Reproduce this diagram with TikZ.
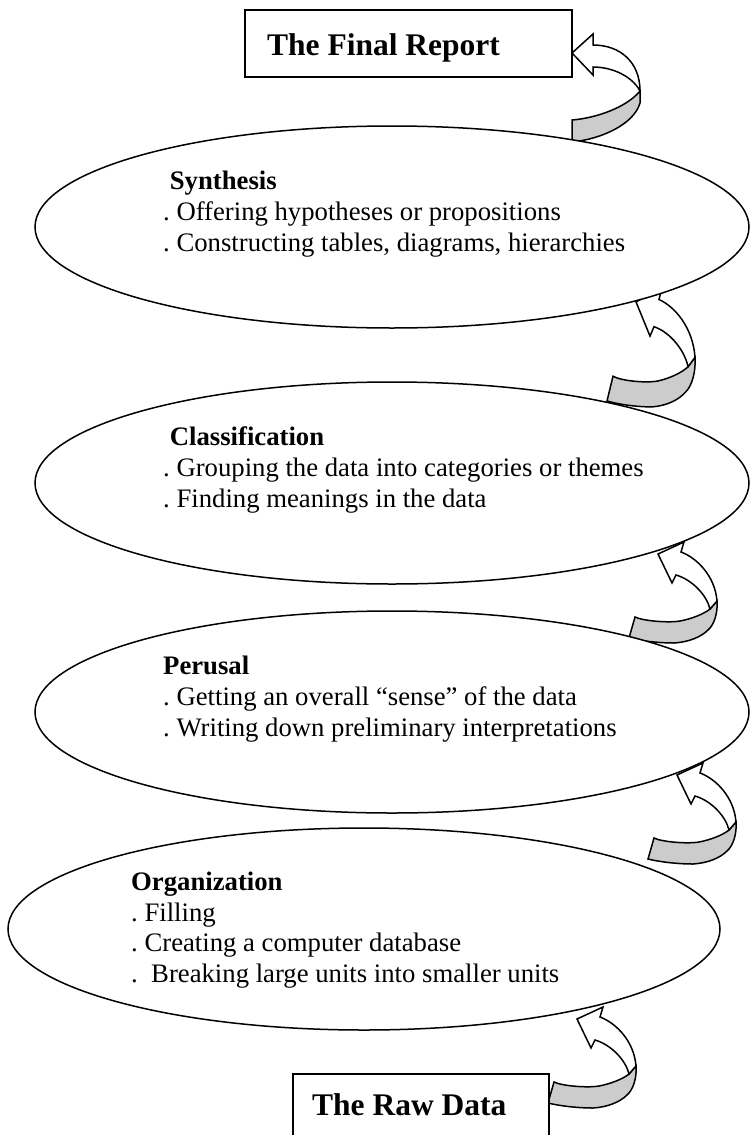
\documentclass[tikz,border=0pt]{standalone}
\usepackage{fontspec}
\setmainfont{Liberation Serif}
\usetikzlibrary{shapes.geometric}
\definecolor{bandgray}{RGB}{204,204,204}
\frenchspacing
\tikzset{
  ln/.style={line width=1.5pt, line join=miter},
  stage/.style={ellipse, draw, ln, fill=white, minimum width=714pt, minimum height=202pt, inner sep=0pt},
  endbox/.style={rectangle, draw, ln, fill=white, inner sep=0pt, anchor=north west},
  body/.style={anchor=base west, inner sep=0pt, font=\fontsize{26.7pt}{30.7pt}\selectfont},
  head/.style={anchor=base west, inner sep=0pt, font=\fontsize{26.7pt}{30.7pt}\selectfont\bfseries},
  title/.style={anchor=base west, inner sep=0pt, font=\fontsize{31.5pt}{36pt}\selectfont\bfseries},
  curl/.pic={
    \draw[ln, fill=bandgray] (0,0) -- (6,-21) .. controls (14,-17) and (40,-15) .. (51,-17)
      .. controls (62,-19) and (75,-24) .. (81,-29) -- (88,-37)
      .. controls (89,-25) and (85,-13) .. (79,-8)
      .. controls (72,-1) and (60,4) .. (45,5)
      .. controls (30,5) and (12,3) .. (0,0) -- cycle;
    \draw[ln, fill=white] (29,-84) -- (55,-96) -- (52,-86)
      .. controls (68,-80) and (86,-62) .. (88,-37) -- (81,-29)
      .. controls (78,-42) and (64,-58) .. (47,-63) -- (43,-55) -- cycle;
  },
  curltop/.pic={
    \draw[ln, fill=bandgray] (0,0) -- (0,-22) .. controls (25,-24) and (55,-35) .. (68,-51)
      -- (68,-39) .. controls (62,-18) and (30,-3) .. (0,0) -- cycle;
    \draw[ln, fill=white] (0,-89) -- (21,-108) -- (21,-97)
      .. controls (48,-97) and (68,-80) .. (68,-51)
      .. controls (60,-66) and (40,-75) .. (21,-75) -- (21,-67) -- cycle;
  }
}
\begin{document}
\begin{tikzpicture}[x=1pt,y=-1pt]
\path[use as bounding box] (0,0) rectangle (750,1135);
\clip (0,0) rectangle (750,1135);
% curved arrows (drawn first, ellipses cover their tips)
\coordinate (a1) at (572,142);
\coordinate (a2) at (607,401);
\coordinate (a3) at (629,638);
\coordinate (a4) at (648,859);
\coordinate (a5) at (548,1103);
\pic at (a1) {curltop};
\pic[yscale=1.18] at (a2) {curl};
\pic at (a3) {curl};
\pic at (a4) {curl};
\pic at (a5) {curl};
% stages
\node[stage] (syn) at (392,227) {};
\node[stage] (cls) at (392,483) {};
\node[stage] (per) at (392,712) {};
\node[stage, minimum width=712pt] (org) at (364,929) {};
% end boxes
\node[endbox, minimum width=327pt, minimum height=67pt] (final) at (244,9) {};
\node[endbox, minimum width=256pt, minimum height=75pt] (raw) at (292,1073) {};
\node[title] (finalt) at (267,55) {The Final Report};
\node[title] (rawt) at (312,1115) {The Raw Data};
% texts
\node[head] (syn0) at (169.7,189) {Synthesis};
\node[body] (syn1) at (163,220) {. Offering hypotheses or propositions};
\node[body] (syn2) at (163,251) {. Constructing tables, diagrams, hierarchies};
\node[head] (cls0) at (169.7,445) {Classification};
\node[body] (cls1) at (163,476) {. Grouping the data into categories or themes};
\node[body] (cls2) at (163,507) {. Finding meanings in the data};
\node[head] (per0) at (163,674) {Perusal};
\node[body] (per1) at (163,705) {. Getting an overall “sense” of the data};
\node[body] (per2) at (163,736) {. Writing down preliminary interpretations};
\node[head] (org0) at (131,890) {Organization};
\node[body] (org1) at (131,921) {. Filling};
\node[body] (org2) at (131,951) {. Creating a computer database};
\node[body] (org3) at (131,982) {.~~Breaking large units into smaller units};
\end{tikzpicture}
\end{document}
